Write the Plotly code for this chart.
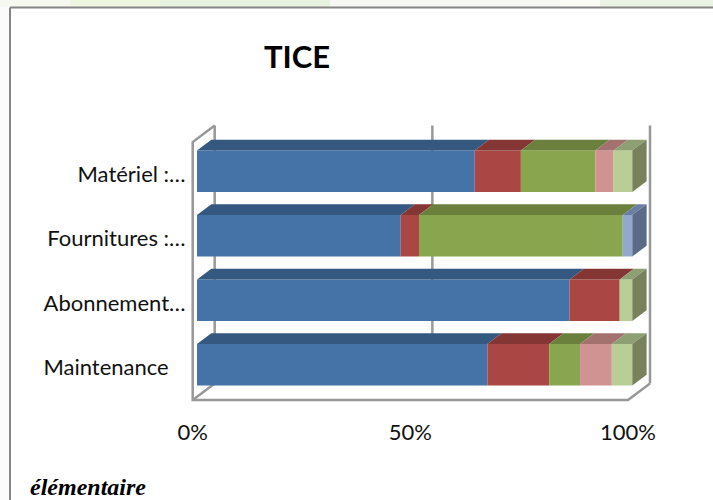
import plotly.graph_objects as go

categories = ["Maintenance\u00a0\u00a0\u00a0", "Abonnement…", "Fournitures :…", "Matériel :…"]
bleu = [66.7, 85.6, 46.8, 63.8]
rouge = [14.2, 11.5, 4.2, 10.6]
vert = [7.1, 0, 46.8, 17.1]
bleu_clair = [0, 0, 2.2, 0]
rose = [7.3, 0, 0, 4.2]
vert_clair = [4.7, 2.9, 0, 4.3]
x_ticks = [0, 50, 100]
x_tick_labels = ["0%", "50%", "100%"]

series = [
    (bleu, "#4572a7", "#355880", "#2f4f74"),
    (rouge, "#aa4643", "#843634", "#6e2d2b"),
    (vert, "#89a54e", "#6a803c", "#5a6d33"),
    (bleu_clair, "#92a8cd", "#6b7fa3", "#5b6a87"),
    (rose, "#d19392", "#a3726f", "#8a6160"),
    (vert_clair, "#b9cd96", "#8f9f74", "#77815c"),
]

W, H = 713, 500
L, R, T, B = 191, 53, 120, 90
PXU_X = 4.353   # pixels per percent
PXU_Y = 64.5    # pixels per category
X0, Y0 = 192.7, 400.0
x_range = [(L - X0) / PXU_X, (W - R - X0) / PXU_X]
y_range = [-0.5 - (H - B - Y0) / PXU_Y, -0.5 + (Y0 - T) / PXU_Y]

dx_wall, dy_wall = 22 / PXU_X, 16.5 / PXU_Y      # wall depth
bx, by = 4.3 / PXU_X, 3 / PXU_Y                  # bar offset from the front plane
dbx, dby = 14.3 / PXU_X, 10.8 / PXU_Y            # bar depth
bar_h = 41.5 / PXU_Y

fig = go.Figure()
cum = [0.0] * len(categories)
ypos = [i + by for i in range(len(categories))]
for vals, front, top, side in series:
    fig.add_trace(go.Bar(
        y=ypos, x=vals, base=[c + bx for c in cum], orientation="h", width=bar_h,
        marker=dict(color=front, line=dict(width=0)), hoverinfo="skip", showlegend=False))
    for i, v in enumerate(vals):
        if v <= 0:
            continue
        x1, x2 = cum[i] + bx, cum[i] + v + bx
        yt = ypos[i] + bar_h / 2
        fig.add_trace(go.Scatter(
            x=[x1, x2, x2 + dbx, x1 + dbx, x1], y=[yt, yt, yt + dby, yt + dby, yt],
            mode="lines", fill="toself", fillcolor=top, line=dict(width=0),
            hoverinfo="skip", showlegend=False))
        if abs(cum[i] + v - 100) < 0.11:
            yb = ypos[i] - bar_h / 2
            fig.add_trace(go.Scatter(
                x=[x2, x2 + dbx, x2 + dbx, x2, x2], y=[yb, yb + dby, yt + dby, yt, yb],
                mode="lines", fill="toself", fillcolor=side, line=dict(width=0),
                hoverinfo="skip", showlegend=False))
        cum[i] += v

wall = dict(color="#989898", width=2.5)
ybot, ytop = -0.5, len(categories) - 0.5
shapes = [
    dict(type="line", xref="x", yref="y", layer="below", x0=t + dx_wall, x1=t + dx_wall,
         y0=ybot + dy_wall, y1=ytop + dy_wall, line=wall) for t in x_ticks
]
shapes += [
    dict(type="path", xref="x", yref="y", layer="below", line=wall,
         path=f"M {x_ticks[0] + dx_wall} {ytop + dy_wall} L {x_ticks[0]} {ytop} L {x_ticks[0]} {ybot} "
              f"L {x_ticks[-1]} {ybot} L {x_ticks[-1] + dx_wall} {ybot + dy_wall}"),
    dict(type="line", xref="x", yref="y", layer="below", x0=x_ticks[0], x1=x_ticks[0] + dx_wall,
         y0=ybot, y1=ybot + dy_wall, line=wall),
]

def px(x):
    return (x - L) / (W - L - R)

def py(y):
    return (H - B - y) / (H - T - B)

# page behind the chart frame
for a, b, c in [(0, 70, "#f6f9f0"), (70, 160, "#eef6e2"), (160, 330, "#e6f1df"), (330, 560, "#f6f7f3"),
                (560, 600, "#fbfcf6"), (600, 713, "#eaf2e4")]:
    shapes.append(dict(type="rect", xref="paper", yref="paper", layer="below",
                       x0=px(a), x1=px(b), y0=py(7), y1=py(0), fillcolor=c, line=dict(width=0)))
shapes.append(dict(type="rect", xref="paper", yref="paper", layer="below",
                   x0=px(0), x1=px(9), y0=py(500), y1=py(7), fillcolor="#fbfbfb", line=dict(width=0)))
frame = dict(color="#858585", width=2)
shapes.append(dict(type="line", xref="paper", yref="paper", x0=px(10), x1=px(713), y0=py(7.5), y1=py(7.5), line=frame))
shapes.append(dict(type="line", xref="paper", yref="paper", x0=px(10), x1=px(10), y0=py(7.5), y1=py(500), line=frame))

fig.update_layout(
    width=W, height=H, autosize=False,
    margin=dict(l=L, r=R, t=T, b=B),
    paper_bgcolor="white", plot_bgcolor="rgba(0,0,0,0)",
    barmode="overlay", showlegend=False, shapes=shapes,
    font=dict(family="Lato", color="#111111", size=22),
    xaxis=dict(range=x_range, tickmode="array", tickvals=x_ticks, ticktext=x_tick_labels,
               showgrid=False, zeroline=False, showline=False, ticks="outside", ticklen=3,
               tickcolor="rgba(0,0,0,0)", tickfont=dict(family="Lato", size=22)),
    yaxis=dict(range=y_range, tickmode="array", tickvals=list(range(len(categories))), ticktext=categories,
               showgrid=False, zeroline=False, showline=False, ticks="outside", ticklen=0,
               tickcolor="rgba(0,0,0,0)", tickfont=dict(family="Lato", size=22)),
    annotations=[
        dict(text="<b>TICE</b>", xref="paper", yref="paper", x=px(297), y=py(56.5), showarrow=False,
             xanchor="center", yanchor="middle", font=dict(family="Lato", size=31, color="#000000")),
        dict(text="<b><i>élémentaire</i></b>", xref="paper", yref="paper", x=px(88), y=py(487), showarrow=False,
             xanchor="center", yanchor="middle", font=dict(family="Liberation Serif", size=24, color="#000000")),
    ],
)
fig.write_html("out.html", config=dict(displayModeBar=False),
               post_script="document.body.style.margin='0';document.documentElement.style.overflow='hidden';")
